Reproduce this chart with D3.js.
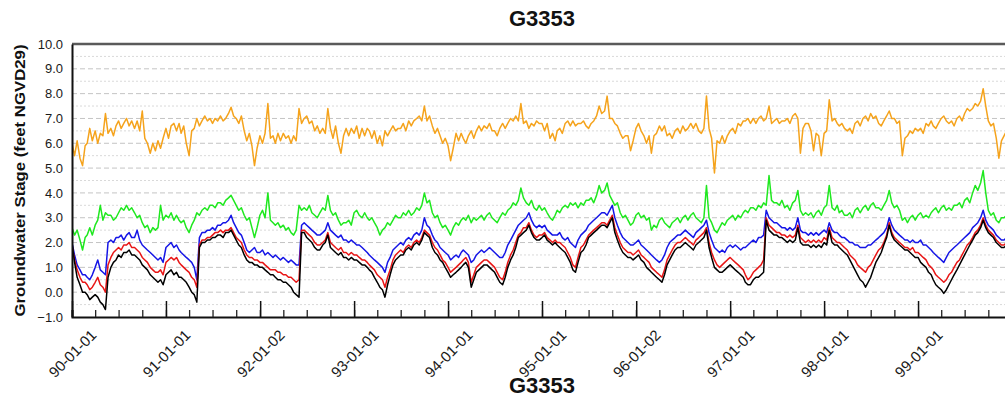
<!DOCTYPE html>
<html>
<head>
<meta charset="utf-8">
<script src="https://cdn.jsdelivr.net/npm/d3@7"></script>
<style>
  body { margin: 0; background: #fff; }
  svg { display: block; font-family: "Liberation Sans", Arial, sans-serif; }
</style>
</head>
<body>
<div id="chart"></div>
<script>
// station name
var stationName = "G3353";
var yTitle = "Groundwater Stage (feet NGVD29)";

// x tick labels (yearly major ticks)
var tickDates = [
  new Date(1990,0,1), new Date(1991,0,1), new Date(1992,0,2), new Date(1993,0,1), new Date(1994,0,1),
  new Date(1995,0,1), new Date(1996,0,2), new Date(1997,0,1), new Date(1998,0,1), new Date(1999,0,1)
];
var tickLabels = ["90-01-01","91-01-01","92-01-02","93-01-01","94-01-01","95-01-01","96-01-02","97-01-01","98-01-01","99-01-01"];

// readings: 3 per month (day 1, 11, 21), Jan 1990 - Dec 1999
var orange = [
  6.0,5.5,6.1, 5.4,5.1,5.9, 6.0,6.6,6.1, 6.5,6.0,6.4, 6.3,7.2,6.4, 6.6,6.3,6.7, 6.9,6.6,6.8, 7.0,6.7,6.9, 6.6,6.9,6.5, 7.3,6.2,6.0, 5.6,6.0,5.7, 6.1,5.8,6.2,
  6.6,6.2,6.7, 6.8,6.5,6.8, 6.4,6.7,6.0, 5.5,6.5,6.6, 7.0,6.7,6.9, 7.1,6.9,7.0, 6.8,7.0,6.9, 7.1,6.9,7.0, 7.2,7.45,7.1, 7.0,6.8,7.1, 6.5,6.1,6.4, 5.9,5.1,5.8,
  6.3,6.0,6.4, 7.6,6.2,6.3, 6.0,6.4,6.1, 6.4,6.2,6.3, 6.0,6.3,6.1, 7.4,6.8,7.0, 7.1,6.8,6.9, 6.5,6.7,6.4, 6.6,6.4,7.4, 6.6,6.2,6.7, 6.0,5.6,6.3, 6.6,6.3,6.6,
  6.4,6.7,6.2, 6.6,6.3,6.6, 6.5,6.2,6.5, 6.0,6.3,5.9, 6.5,6.3,6.5, 6.7,6.5,6.6, 6.6,6.8,6.5, 6.9,6.7,6.9, 7.0,7.1,6.9, 7.5,6.9,7.1, 6.7,6.4,6.6, 6.3,6.0,6.2,
  5.9,5.3,5.8, 6.4,6.1,6.4, 6.2,6.0,6.3, 6.5,6.2,6.5, 6.7,6.5,6.7, 6.6,6.8,6.5, 6.5,6.3,6.6, 6.8,6.6,6.8, 7.0,6.9,7.1, 6.9,7.6,6.8, 6.9,6.6,6.8, 6.7,6.9,6.8,
  6.8,6.5,6.8, 6.2,6.4,6.1, 6.5,6.6,6.4, 6.8,6.9,6.7, 6.9,6.7,6.8, 6.8,6.9,6.7, 6.6,6.8,6.9, 7.1,7.5,7.2, 7.3,7.9,7.0, 7.0,6.8,6.7, 6.4,6.2,6.3, 6.3,5.7,6.1,
  6.6,6.8,6.5, 6.3,6.0,6.3, 5.6,6.3,6.4, 6.7,6.5,6.7, 6.3,6.4,6.2, 6.5,6.6,6.4, 6.7,6.5,6.6, 6.8,6.6,6.8, 6.5,6.4,6.6, 7.9,6.6,6.2, 4.8,6.1,6.0, 6.3,6.0,6.3,
  6.5,6.6,6.4, 6.8,6.7,6.9, 6.9,7.0,6.8, 7.0,6.8,7.0, 7.1,6.9,7.0, 7.5,6.8,6.9, 7.0,6.8,6.9, 6.9,7.0,6.8, 7.1,7.2,7.0, 5.6,6.6,6.8, 6.8,6.5,5.7, 6.4,6.3,5.5,
  6.4,6.5,7.75, 6.9,7.0,6.8, 6.7,6.8,6.6, 6.5,6.6,6.4, 6.8,6.9,6.7, 7.0,7.1,6.9, 7.2,7.0,7.1, 6.8,6.7,6.9, 7.1,7.3,7.0, 7.0,6.8,6.9, 5.5,6.2,6.3, 6.5,6.4,6.6,
  6.5,6.6,6.4, 6.8,6.7,6.9, 6.7,6.6,6.8, 7.0,7.1,6.9, 6.8,6.9,6.7, 7.0,7.1,6.9, 7.2,7.4,7.3, 7.4,7.6,7.5, 7.7,8.2,7.5, 6.9,6.7,6.8, 6.2,5.4,6.1, 6.3,6.5,6.2
];
var green = [
  2.6,2.3,2.5, 2.1,1.7,2.2, 2.3,2.6,2.3, 2.7,2.9,3.5, 2.9,3.2,3.1, 3.1,2.9,3.0, 3.2,3.4,3.3, 3.5,3.3,3.4, 3.2,3.0,3.1, 2.8,2.6,2.7, 2.4,2.6,2.5, 2.6,3.5,2.9,
  3.1,3.0,3.2, 2.9,3.1,2.9, 2.8,2.9,2.6, 2.4,2.7,2.9, 3.2,3.1,3.3, 3.4,3.3,3.5, 3.5,3.4,3.6, 3.6,3.5,3.7, 3.8,3.9,3.7, 3.5,3.3,3.4, 3.1,2.9,3.0, 2.6,2.2,2.6,
  3.1,3.3,3.0, 4.0,2.9,2.8, 2.7,2.8,2.6, 2.7,2.5,2.6, 2.4,2.3,2.5, 3.5,3.3,3.4, 3.3,3.5,3.2, 3.1,3.0,3.2, 3.4,3.3,3.9, 3.3,3.1,3.2, 2.9,2.7,2.8, 2.8,2.9,2.7,
  3.2,3.3,3.1, 3.0,3.2,3.0, 2.9,3.0,2.8, 2.6,2.3,2.5, 2.6,2.8,2.7, 2.9,3.1,3.0, 3.0,3.2,3.1, 3.3,3.1,3.2, 3.4,3.3,3.5, 4.0,3.6,3.7, 3.2,3.0,3.1, 2.8,2.6,2.7,
  2.5,2.3,2.6, 2.8,2.7,2.9, 3.0,2.9,3.1, 2.8,3.0,2.9, 3.0,3.1,2.9, 3.1,3.2,3.0, 2.9,2.8,3.0, 3.2,3.1,3.3, 3.4,3.6,3.5, 3.7,4.2,3.8, 3.6,3.5,3.7, 3.4,3.3,3.5,
  3.3,3.4,3.2, 3.0,2.9,3.1, 3.3,3.2,3.4, 3.5,3.4,3.6, 3.5,3.6,3.4, 3.6,3.5,3.7, 3.7,3.8,3.6, 3.9,4.3,4.0, 4.1,4.4,3.9, 3.7,3.5,3.6, 3.2,3.0,3.1, 2.9,2.7,2.8,
  3.1,3.2,3.0, 3.1,2.9,3.0, 2.5,2.7,2.6, 2.9,3.0,2.8, 2.7,2.6,2.8, 2.9,3.0,2.8, 3.0,3.1,2.9, 3.1,3.2,3.0, 2.9,2.8,3.0, 4.3,3.0,2.8, 2.5,2.4,2.6, 2.8,2.7,2.9,
  3.0,3.1,2.9, 3.1,3.0,3.2, 3.3,3.2,3.4, 3.4,3.3,3.5, 3.4,3.6,3.5, 4.7,3.7,3.6, 3.6,3.5,3.7, 3.4,3.5,3.3, 3.6,3.7,4.1, 3.3,3.1,3.2, 3.1,3.2,3.0, 3.2,3.3,3.1,
  3.4,3.5,4.3, 3.4,3.3,3.5, 3.2,3.3,3.1, 3.1,3.2,3.0, 3.3,3.4,3.2, 3.4,3.5,3.3, 3.5,3.6,3.4, 3.4,3.3,3.5, 3.7,4.1,3.6, 3.4,3.5,3.3, 2.9,3.0,2.8, 3.0,3.1,2.9,
  3.1,3.2,3.0, 3.1,3.0,3.2, 3.3,3.4,3.2, 3.4,3.5,3.3, 3.4,3.3,3.5, 3.5,3.6,3.4, 3.7,3.8,3.6, 4.0,4.3,4.1, 4.4,4.9,4.0, 3.3,3.1,3.2, 2.9,2.8,3.0, 3.0,3.1,2.9
];
var blue = [
  2.0,1.5,1.1, 0.9,0.7,0.7, 0.6,0.5,0.7, 1.0,1.3,0.9, 0.8,0.7,2.0, 2.1,2.0,2.2, 2.2,2.3,2.1, 2.3,2.4,2.2, 2.2,2.5,2.1, 1.9,1.8,1.7, 1.6,1.5,1.4, 1.3,1.4,1.2,
  1.8,1.9,2.0, 1.8,1.9,1.7, 1.6,1.5,1.4, 1.3,1.2,1.0, 0.5,2.2,2.4, 2.4,2.5,2.5, 2.6,2.5,2.7, 2.7,2.8,2.8, 2.9,3.1,2.8, 2.6,2.4,2.3, 2.0,1.7,1.6, 1.7,1.8,1.6,
  1.6,1.7,1.5, 1.6,1.5,1.4, 1.5,1.4,1.3, 1.4,1.3,1.2, 1.3,1.2,1.1, 1.1,2.7,2.8, 2.7,2.6,2.5, 2.4,2.3,2.3, 2.4,2.5,2.8, 2.5,2.4,2.3, 2.2,2.3,2.1, 2.1,2.0,2.1,
  2.0,1.9,1.9, 1.8,1.7,1.6, 1.5,1.4,1.3, 1.2,1.1,1.0, 0.8,1.2,1.4, 1.7,1.8,1.9, 2.0,1.9,2.1, 2.2,2.1,2.3, 2.4,2.3,2.5, 3.0,2.7,2.6, 2.3,2.1,2.0, 1.8,1.7,1.6,
  1.5,1.3,1.4, 1.5,1.4,1.6, 1.7,1.6,1.5, 1.2,1.3,1.5, 1.6,1.7,1.6, 1.7,1.8,1.7, 1.6,1.5,1.4, 1.4,1.6,1.9, 2.1,2.3,2.5, 2.7,2.8,2.9, 3.0,3.2,2.9, 2.7,2.6,2.7,
  2.6,2.7,2.5, 2.4,2.3,2.3, 2.3,2.4,2.2, 2.1,2.2,2.0, 1.9,1.8,2.1, 2.3,2.4,2.5, 2.7,2.8,2.9, 3.0,3.1,3.2, 3.2,3.1,3.3, 3.5,3.0,2.7, 2.4,2.2,2.1, 2.0,1.9,1.9,
  2.0,2.1,1.9, 1.8,1.7,1.6, 1.5,1.4,1.3, 1.2,1.3,1.5, 1.8,2.0,2.1, 2.2,2.3,2.3, 2.4,2.5,2.4, 2.3,2.2,2.4, 2.5,2.6,2.7, 2.9,2.4,2.1, 1.8,1.7,1.6, 1.7,1.6,1.8,
  1.9,1.8,1.9, 1.8,1.7,1.8, 1.8,1.9,2.0, 2.1,2.0,2.2, 2.2,2.3,3.3, 3.0,2.9,2.8, 2.8,2.7,2.6, 2.6,2.5,2.6, 2.5,2.6,3.0, 2.5,2.4,2.4, 2.3,2.4,2.3, 2.4,2.3,2.4,
  2.5,2.4,2.8, 2.5,2.4,2.4, 2.3,2.2,2.2, 2.1,2.0,2.0, 1.9,1.9,1.8, 1.8,1.8,1.9, 1.9,2.0,2.1, 2.2,2.3,2.4, 2.6,3.0,2.7, 2.5,2.4,2.3, 2.2,2.1,2.1, 2.0,2.1,2.0,
  2.0,2.1,1.9, 1.9,1.8,1.7, 1.6,1.5,1.4, 1.3,1.2,1.4, 1.6,1.7,1.8, 1.9,2.0,2.1, 2.2,2.3,2.4, 2.6,2.7,2.8, 3.0,3.3,2.9, 2.7,2.6,2.5, 2.3,2.2,2.1, 2.1,2.2,2.0
];
var red = [
  1.9,1.3,0.9, 0.6,0.4,0.4, 0.3,0.1,0.2, 0.4,0.6,0.3, 0.2,0.0,1.1, 1.4,1.6,1.7, 1.8,1.7,1.9, 1.9,2.0,1.8, 1.8,1.7,1.6, 1.4,1.3,1.2, 1.0,0.9,0.8, 0.8,0.9,0.7,
  1.2,1.3,1.4, 1.3,1.4,1.2, 1.1,1.0,0.9, 0.8,0.6,0.5, 0.2,1.9,2.1, 2.1,2.2,2.2, 2.3,2.4,2.4, 2.5,2.4,2.5, 2.5,2.6,2.4, 2.2,2.1,2.0, 1.7,1.5,1.4, 1.4,1.3,1.3,
  1.2,1.2,1.1, 1.0,0.9,0.9, 0.9,0.8,0.8, 0.7,0.7,0.6, 0.6,0.5,0.4, 0.5,2.5,2.5, 2.4,2.3,2.2, 2.0,1.9,1.9, 2.0,2.1,2.4, 2.0,1.9,1.8, 1.7,1.8,1.6, 1.6,1.5,1.6,
  1.5,1.5,1.4, 1.3,1.3,1.2, 1.1,1.0,0.9, 0.7,0.6,0.5, 0.2,0.6,0.9, 1.3,1.5,1.6, 1.7,1.6,1.8, 1.9,1.8,2.0, 2.1,2.0,2.2, 2.5,2.4,2.3, 2.0,1.8,1.7, 1.5,1.3,1.2,
  1.0,0.8,0.9, 1.0,1.1,1.2, 1.3,1.4,1.2, 0.4,0.7,1.0, 1.1,1.2,1.3, 1.3,1.2,1.1, 1.0,0.8,0.6, 0.5,0.8,1.2, 1.5,1.7,2.0, 2.3,2.4,2.6, 2.6,2.8,2.5, 2.3,2.2,2.3,
  2.3,2.4,2.2, 2.1,2.0,2.1, 2.0,2.0,1.9, 1.8,1.6,1.4, 1.1,1.0,1.4, 1.8,1.9,2.1, 2.3,2.4,2.5, 2.6,2.7,2.8, 2.8,2.7,2.9, 3.1,2.6,2.3, 2.0,1.8,1.7, 1.6,1.6,1.5,
  1.6,1.7,1.5, 1.4,1.3,1.2, 1.0,0.9,0.8, 0.7,0.6,0.9, 1.3,1.5,1.7, 1.9,2.0,2.0, 2.1,2.2,2.1, 2.0,1.9,2.1, 2.2,2.3,2.4, 2.6,2.0,1.6, 1.3,1.1,1.0, 1.1,1.2,1.3,
  1.4,1.3,1.2, 1.1,1.0,0.9, 0.7,0.5,0.6, 0.8,0.9,1.0, 1.1,1.3,3.0, 2.7,2.6,2.5, 2.4,2.4,2.3, 2.3,2.2,2.3, 2.2,2.3,2.7, 2.2,2.1,2.0, 2.1,2.0,2.1, 2.0,2.1,2.0,
  2.2,2.1,2.6, 2.2,2.1,2.0, 2.0,1.9,1.8, 1.7,1.5,1.4, 1.3,1.1,1.0, 0.9,0.8,1.0, 1.1,1.3,1.5, 1.7,1.8,2.0, 2.3,2.8,2.4, 2.2,2.1,2.0, 1.9,1.8,1.8, 1.7,1.8,1.6,
  1.6,1.5,1.4, 1.3,1.1,1.0, 0.9,0.7,0.6, 0.5,0.4,0.5, 0.7,0.8,1.0, 1.2,1.3,1.5, 1.7,1.9,2.0, 2.2,2.4,2.5, 2.7,3.0,2.7, 2.5,2.4,2.3, 2.1,2.0,1.9, 1.9,2.0,1.8
];
var black = [
  2.0,1.2,0.6, 0.3,0.0,0.0, -0.1,-0.3,-0.2, -0.1,-0.2,-0.4, -0.5,-0.7,0.6, 1.0,1.2,1.3, 1.5,1.4,1.6, 1.6,1.7,1.5, 1.5,1.4,1.3, 1.1,1.0,0.9, 0.7,0.6,0.5, 0.4,0.5,0.3,
  0.7,0.8,0.9, 0.7,0.8,0.6, 0.6,0.5,0.4, 0.2,0.0,-0.1, -0.4,1.8,2.0, 2.0,2.1,2.1, 2.2,2.2,2.3, 2.3,2.2,2.4, 2.4,2.5,2.3, 2.1,1.9,1.8, 1.5,1.3,1.2, 1.2,1.1,1.1,
  1.0,1.0,0.9, 0.8,0.7,0.7, 0.6,0.5,0.5, 0.4,0.4,0.3, 0.2,0.0,-0.1, -0.2,2.4,2.4, 2.2,2.1,2.0, 1.8,1.7,1.7, 1.9,2.0,2.3, 1.8,1.7,1.6, 1.5,1.6,1.4, 1.4,1.3,1.4,
  1.3,1.3,1.2, 1.1,1.1,1.0, 0.9,0.8,0.6, 0.4,0.2,0.1, -0.2,0.3,0.7, 1.1,1.3,1.4, 1.5,1.5,1.7, 1.8,1.7,1.9, 2.0,1.9,2.1, 2.4,2.3,2.2, 1.8,1.6,1.5, 1.3,1.2,1.0,
  0.8,0.6,0.7, 0.8,0.9,1.0, 1.1,1.2,1.0, 0.2,0.5,0.8, 0.9,1.0,1.1, 1.1,1.0,0.9, 0.8,0.6,0.4, 0.3,0.6,1.0, 1.3,1.5,1.8, 2.2,2.3,2.4, 2.5,2.7,2.4, 2.2,2.1,2.1,
  2.2,2.3,2.1, 2.0,1.9,2.0, 1.9,1.8,1.7, 1.6,1.4,1.2, 0.9,0.8,1.2, 1.6,1.7,1.9, 2.2,2.3,2.4, 2.5,2.6,2.7, 2.7,2.6,2.8, 3.0,2.4,2.1, 1.8,1.6,1.5, 1.4,1.4,1.3,
  1.4,1.5,1.3, 1.2,1.0,0.9, 0.8,0.7,0.6, 0.5,0.4,0.7, 1.1,1.3,1.5, 1.7,1.8,1.8, 1.9,2.0,1.9, 1.8,1.7,1.9, 2.0,2.1,2.2, 2.5,1.8,1.4, 1.0,0.9,0.8, 0.8,0.9,1.0,
  1.1,1.0,0.9, 0.8,0.7,0.6, 0.4,0.3,0.3, 0.5,0.6,0.6, 0.7,0.8,2.9, 2.5,2.4,2.3, 2.3,2.2,2.2, 2.1,2.0,2.1, 2.0,2.1,2.6, 2.0,1.9,1.9, 1.9,1.8,1.9, 1.8,1.9,1.8,
  2.0,1.9,2.5, 2.0,1.9,1.9, 1.8,1.7,1.6, 1.5,1.3,1.1, 0.9,0.7,0.5, 0.4,0.2,0.4, 0.6,0.9,1.2, 1.4,1.6,1.9, 2.2,2.7,2.3, 2.1,2.0,1.9, 1.8,1.7,1.7, 1.6,1.5,1.4,
  1.4,1.2,1.1, 1.0,0.8,0.7, 0.5,0.3,0.2, 0.1,-0.05,0.1, 0.3,0.5,0.7, 0.9,1.1,1.3, 1.5,1.7,1.9, 2.1,2.3,2.4, 2.6,2.9,2.6, 2.4,2.3,2.2, 2.0,1.9,1.8, 1.8,1.9,1.7
];

// sample dates: 1st, 11th and 21st of every month
var dates = d3.range(orange.length).map(function(i) {
  return new Date(1990, Math.floor(i / 3), 1 + (i % 3) * 10);
});

var series = [
  {values: green,  color: "#1fe81f"},
  {values: orange, color: "#f5a31c"},
  {values: blue,   color: "#1515e6"},
  {values: red,    color: "#e81515"},
  {values: black,  color: "#000000"}
];

// set the dimensions and margins of the graph
var W = 1005, H = 397;
var margin = {top: 44, left: 72, bottom: 80};
var plotRight = 1012;

var svg = d3.select("#chart")
  .append("svg")
    .attr("width", W)
    .attr("height", H);

var x = d3.scaleTime()
  .domain([new Date(1990,0,1), new Date(2000,0,1)])
  .range([margin.left, plotRight]);

var y = d3.scaleLinear()
  .domain([-1, 10])
  .range([H - margin.bottom, margin.top]);

// grid lines: dashed at whole feet, dotted at half feet
var whole = d3.range(0, 10, 1);
var halves = d3.range(-0.5, 10, 1);

svg.append("g").selectAll("line")
  .data(halves)
  .enter().append("line")
    .attr("x1", margin.left).attr("x2", W)
    .attr("y1", function(d) { return y(d); })
    .attr("y2", function(d) { return y(d); })
    .attr("stroke", "#d9d9d9")
    .attr("stroke-width", 1)
    .attr("stroke-dasharray", "2,2");

svg.append("g").selectAll("line")
  .data(whole)
  .enter().append("line")
    .attr("x1", margin.left).attr("x2", W)
    .attr("y1", function(d) { return y(d); })
    .attr("y2", function(d) { return y(d); })
    .attr("stroke", "#c4c4c4")
    .attr("stroke-width", 1)
    .attr("stroke-dasharray", "5,3");

// clip the lines to the plot area
svg.append("clipPath").attr("id", "plot")
  .append("rect")
    .attr("x", margin.left).attr("y", margin.top)
    .attr("width", plotRight - margin.left)
    .attr("height", y(-1) - margin.top);

var line = d3.line()
  .x(function(d, i) { return x(dates[i]); })
  .y(function(d) { return y(d); });

svg.append("g")
  .attr("clip-path", "url(#plot)")
  .selectAll("path")
  .data(series)
  .enter().append("path")
    .attr("fill", "none")
    .attr("stroke", function(d) { return d.color; })
    .attr("stroke-width", 1.5)
    .attr("stroke-linejoin", "round")
    .attr("d", function(d) { return line(d.values); });

// top border
svg.append("line")
  .attr("x1", margin.left).attr("x2", W)
  .attr("y1", margin.top).attr("y2", margin.top)
  .attr("stroke", "#5a5a5a")
  .attr("stroke-width", 2.4);

// Y axis
var yAxis = svg.append("g")
  .attr("transform", "translate(" + margin.left + ",0)")
  .call(d3.axisLeft(y).tickValues(d3.range(-1, 11, 1)).tickSize(0).tickPadding(9).tickFormat(d3.format(".1f")));
yAxis.select(".domain").attr("stroke", "#111").attr("stroke-width", 2);
yAxis.selectAll("text")
  .attr("font-size", 13)
  .attr("fill", "#1a1a1a")
  .attr("font-family", "'Liberation Sans', Arial, sans-serif");

// X axis: quarterly minor ticks, yearly major ticks
var xMinor = svg.append("g")
  .attr("transform", "translate(0," + y(-1) + ")")
  .call(d3.axisBottom(x).ticks(d3.timeMonth.every(3)).tickSize(-7).tickFormat(""));
xMinor.select(".domain").attr("stroke", "#111").attr("stroke-width", 2);
xMinor.selectAll(".tick line").attr("stroke", "#222").attr("stroke-width", 1.3);

var xMajor = svg.append("g")
  .attr("transform", "translate(0," + y(-1) + ")")
  .call(d3.axisBottom(x).tickValues(tickDates).tickSize(-16)
    .tickFormat(function(d, i) { return tickLabels[i]; }));
xMajor.select(".domain").remove();
xMajor.selectAll(".tick line").attr("stroke", "#111").attr("stroke-width", 1.5);
xMajor.selectAll("text")
  .attr("y", 0).attr("dy", 0).attr("x", 0)
  .attr("transform", "translate(25,19) rotate(-45)")
  .style("text-anchor", "end")
  .attr("font-size", 15)
  .attr("fill", "#1a1a1a")
  .attr("font-family", "'Liberation Sans', Arial, sans-serif");

// titles
svg.append("text")
  .attr("x", 542).attr("y", 26)
  .attr("text-anchor", "middle")
  .attr("font-size", 22).attr("font-weight", "bold")
  .attr("fill", "#111")
  .text(stationName);

svg.append("text")
  .attr("x", 542).attr("y", 393)
  .attr("text-anchor", "middle")
  .attr("font-size", 22).attr("font-weight", "bold")
  .attr("fill", "#111")
  .text(stationName);

svg.append("text")
  .attr("transform", "translate(25," + ((margin.top + y(-1)) / 2) + ") rotate(-90)")
  .attr("text-anchor", "middle")
  .attr("font-size", 15).attr("font-weight", "bold")
  .attr("fill", "#111")
  .attr("textLength", 272)
  .attr("lengthAdjust", "spacingAndGlyphs")
  .text(yTitle);
</script>
</body>
</html>
